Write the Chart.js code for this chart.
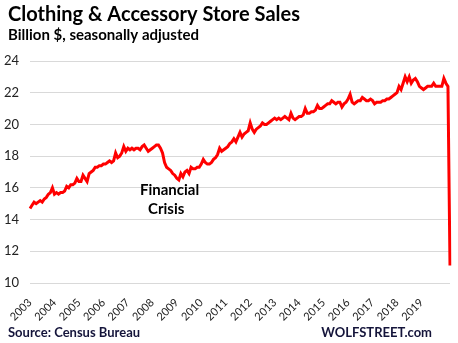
<!DOCTYPE html>
<html>
<head>
<meta charset="utf-8">
<script src="https://cdn.jsdelivr.net/npm/chart.js@4.4.1/dist/chart.umd.min.js"></script>
<style>
    html, body { margin: 0; padding: 0; background: #fff; }
    #wrap { width: 458px; height: 343px; position: relative; }
</style>
</head>
<body>
<div id="wrap"><canvas id="salesChart"></canvas></div>
<script>
// Monthly clothing & accessory store sales, Jan 2003 - Mar 2020 (billion $, SA)
const startYear = 2003;
const yearLabels = ['2003', '2004', '2005', '2006', '2007', '2008', '2009', '2010', '2011',
    '2012', '2013', '2014', '2015', '2016', '2017', '2018', '2019'];
const sales = [
    14.7, 14.9, 15.1, 15.0, 15.1, 15.2, 15.1, 15.3, 15.4, 15.6, 15.7, 16.0, // 2003
    15.6, 15.7, 15.6, 15.7, 15.7, 15.8, 16.1, 16.0, 16.2, 16.2, 16.3, 16.6, // 2004
    16.4, 16.4, 16.8, 16.6, 16.4, 16.9, 17.0, 17.1, 17.3, 17.3, 17.4, 17.4, // 2005
    17.5, 17.5, 17.6, 17.7, 17.6, 17.7, 18.2, 17.9, 18.0, 18.2, 18.6, 18.3, // 2006
    18.5, 18.4, 18.5, 18.4, 18.5, 18.5, 18.4, 18.6, 18.7, 18.5, 18.3, 18.4, // 2007
    18.5, 18.6, 18.7, 18.7, 18.5, 18.2, 17.6, 17.3, 17.2, 17.1, 16.9, 16.8, // 2008
    16.6, 16.5, 16.9, 16.7, 17.0, 17.1, 16.9, 17.3, 17.2, 17.2, 17.3, 17.3, // 2009
    17.5, 17.8, 17.6, 17.5, 17.5, 17.6, 17.8, 17.9, 18.1, 18.5, 18.3, 18.4, // 2010
    18.5, 18.6, 18.8, 18.9, 19.1, 18.9, 19.2, 19.5, 19.2, 19.4, 19.5, 19.6, // 2011
    20.1, 19.7, 19.5, 19.7, 19.8, 19.9, 20.1, 20.0, 20.0, 20.1, 20.2, 20.3, // 2012
    20.4, 20.3, 20.4, 20.3, 20.4, 20.5, 20.4, 20.3, 20.7, 20.4, 20.3, 20.4, // 2013
    20.5, 20.5, 20.6, 21.0, 20.7, 20.7, 20.8, 20.8, 20.9, 21.2, 21.0, 21.0, // 2014
    21.1, 21.2, 21.3, 21.3, 21.5, 21.4, 21.3, 21.4, 21.4, 21.1, 21.3, 21.4, // 2015
    21.6, 21.9, 21.4, 21.3, 21.4, 21.5, 21.5, 21.7, 21.6, 21.5, 21.5, 21.6, // 2016
    21.5, 21.3, 21.4, 21.4, 21.4, 21.5, 21.5, 21.6, 21.6, 21.7, 21.8, 21.9, // 2017
    22.0, 22.4, 22.2, 22.6, 23.0, 22.7, 23.0, 22.6, 22.8, 22.9, 22.7, 22.4, // 2018
    22.3, 22.2, 22.3, 22.4, 22.4, 22.4, 22.6, 22.4, 22.4, 22.4, 22.4, 22.9, // 2019
    22.6, 22.4, 11.1                                                        // 2020
];
const yTicks = [10, 12, 14, 16, 18, 20, 22, 24];

// One category per month; only January gets a year label
const monthLabels = sales.map((_, i) => {
    const y = startYear + Math.floor(i / 12);
    const m = (i % 12) + 1;
    return y + '-' + (m < 10 ? '0' + m : m);
});

const FONT = 'Lato, "Open Sans", sans-serif';

const textPlugin = {
    id: 'chartTexts',
    afterDraw(chart) {
        const ctx = chart.ctx;
        ctx.save();
        ctx.textBaseline = 'alphabetic';
        ctx.textAlign = 'left';
        ctx.fillStyle = '#000';

        ctx.font = 'bold 20px ' + FONT;
        ctx.fillText('Clothing & Accessory Store Sales', 8, 21);

        ctx.font = 'bold 15px ' + FONT;
        ctx.fillText('Billion $, seasonally adjusted', 8, 40);

        // Annotation
        ctx.font = 'bold 15px ' + FONT;
        ctx.fillText('Financial', 140, 195);
        ctx.fillText('Crisis', 148, 214);

        // Footer
        ctx.font = 'bold 13px ' + FONT;
        ctx.fillStyle = '#14143a';
        ctx.fillText('Source: Census Bureau', 8, 337);
        ctx.textAlign = 'right';
        ctx.fillText('WOLFSTREET.com', 432, 337);
        ctx.restore();
    }
};

new Chart(document.getElementById('salesChart'), {
    type: 'line',
    data: {
        labels: monthLabels,
        datasets: [{
            data: sales,
            borderColor: '#ff0000',
            borderWidth: 3,
            pointRadius: 0,
            tension: 0,
            fill: false
        }]
    },
    options: {
        responsive: true,
        maintainAspectRatio: false,
        animation: false,
        layout: {
            padding: { top: 61, right: 8, bottom: 20, left: 0 }
        },
        plugins: {
            legend: { display: false },
            tooltip: { enabled: false }
        },
        scales: {
            x: {
                offset: false,
                grid: { display: false },
                border: { display: false },
                ticks: {
                    autoSkip: false,
                    minRotation: 45,
                    maxRotation: 45,
                    padding: 5,
                    color: '#222',
                    font: { family: FONT, size: 11 },
                    callback: function (value, index) {
                        if (index % 12 !== 0) return null;
                        const y = String(startYear + index / 12);
                        return yearLabels.includes(y) ? y : null;
                    }
                },
                afterFit(scale) { scale.height = 40; }
            },
            y: {
                min: yTicks[0],
                max: yTicks[yTicks.length - 1],
                afterBuildTicks(scale) {
                    scale.ticks = yTicks.map(v => ({ value: v }));
                },
                grid: { color: '#d9d9d9', lineWidth: 1, drawTicks: false },
                border: { display: false },
                ticks: {
                    padding: 11,
                    color: '#222',
                    font: { family: FONT, size: 13 }
                },
                afterFit(scale) { scale.width = 30; }
            }
        }
    },
    plugins: [textPlugin]
});
</script>
</body>
</html>
